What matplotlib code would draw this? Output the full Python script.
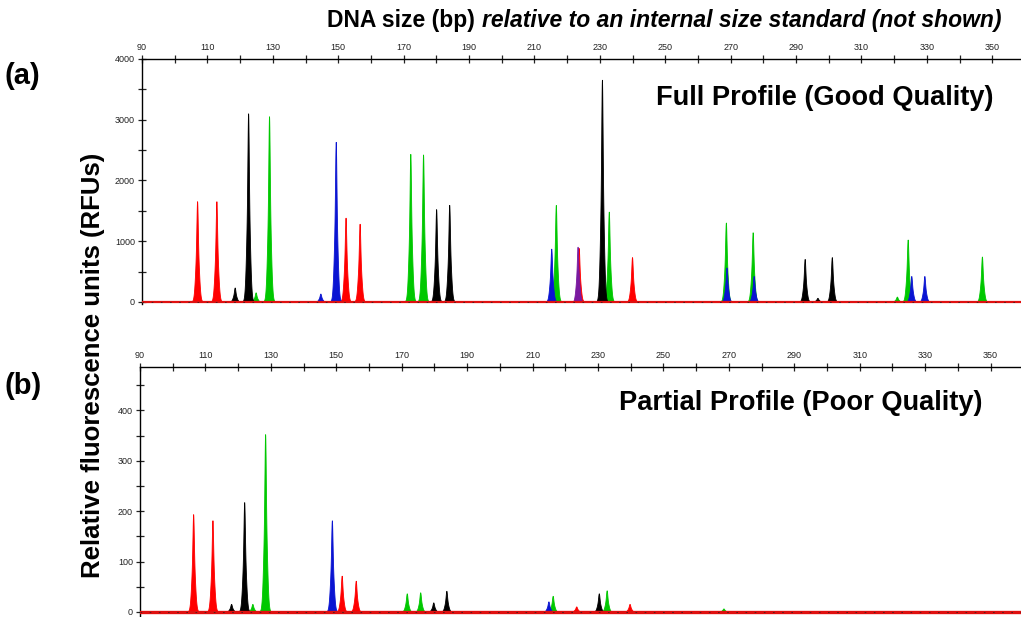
import numpy as np
import matplotlib
matplotlib.use("Agg")
import matplotlib.pyplot as plt
from matplotlib.ticker import MultipleLocator, FixedLocator

plt.rcParams['font.family'] = ['Liberation Sans', 'DejaVu Sans']

# Panel (a): full profile, peak size (bp), height (RFU), dye colour
a_bp = [107.0, 112.9, 118.5, 122.6, 124.9, 129.0, 144.7, 149.4, 149.4, 152.4,
        156.7, 172.2, 176.1, 180.1, 184.1, 215.3, 216.7, 223.2, 223.7, 230.8,
        232.9, 240.0, 268.7, 268.9, 276.9, 277.2, 292.8, 296.7, 301.1, 321.0,
        324.3, 325.4, 329.4, 347.0]
a_rfu = [1650, 1650, 230, 3100, 150, 3050, 130, 300, 2630, 1380,
         1280, 2430, 2420, 1520, 1590, 870, 1590, 910, 880, 3650,
         1480, 730, 1300, 560, 1140, 420, 700, 60, 730, 80,
         1020, 420, 420, 740]
a_dye = ['red', 'red', 'black', 'black', 'green', 'green', 'blue', 'green', 'blue', 'red',
         'red', 'green', 'green', 'black', 'black', 'blue', 'green', 'purple', 'red', 'black',
         'green', 'red', 'green', 'blue', 'green', 'blue', 'black', 'black', 'black', 'green',
         'green', 'blue', 'blue', 'green']

# Panel (b): partial profile
b_bp = [106.4, 112.3, 118.0, 122.0, 124.5, 128.4, 148.8, 151.8, 156.1, 171.7,
        175.8, 179.8, 183.8, 215.0, 216.3, 223.5, 230.4, 232.8, 239.8, 268.5]
b_rfu = [193, 181, 15, 217, 15, 352, 181, 71, 61, 36,
         38, 18, 41, 20, 31, 10, 36, 42, 15, 6]
b_dye = ['red', 'red', 'black', 'black', 'green', 'green', 'blue', 'red', 'red', 'green',
         'green', 'black', 'black', 'blue', 'green', 'red', 'black', 'green', 'red', 'green']

x_ticks_major = list(range(90, 360, 20))
dye_colors = {'green': '#00c800', 'red': '#ff0000', 'black': '#000000',
              'blue': '#0a14d2', 'purple': '#7a1aa0'}
draw_order = ['green', 'red', 'black', 'blue', 'purple']

fig = plt.figure(figsize=(10.21, 6.17), dpi=100)


def draw_panel(ax, bp, rfu, dye, ylim, ymajor, yminor, xlim, base_lw):
    x = np.linspace(90, 362, 10000)
    for d in draw_order:
        y = np.zeros_like(x)
        for p, h, c in zip(bp, rfu, dye):
            if c == d:
                # narrow tip on a slightly wider body
                y += h * (0.4 * np.exp(-0.5 * ((x - p) / 0.18) ** 2)
                          + 0.6 * np.exp(-0.5 * ((x - p) / 0.5) ** 2))
        mask = y > ylim[1] * 0.003
        if mask.any():
            ax.fill_between(x, 0, y, where=mask, color=dye_colors[d], lw=0.6,
                            edgecolor=dye_colors[d], zorder=3)
    ax.axhline(0, color='#e01010', lw=base_lw, zorder=4)
    ax.axhline(0, color='#402020', lw=0.6, ls=(0, (2, 9)), zorder=4)
    ax.set_xlim(*xlim)
    ax.set_ylim(*ylim)
    ax.xaxis.tick_top()
    ax.xaxis.set_major_locator(FixedLocator(x_ticks_major))
    ax.xaxis.set_minor_locator(FixedLocator(list(range(100, 360, 20))))
    ax.yaxis.set_major_locator(MultipleLocator(ymajor))
    ax.yaxis.set_minor_locator(MultipleLocator(yminor))
    ax.tick_params(which='both', direction='inout', labelsize=6.5, width=0.9,
                   colors='#222222', pad=2, length=6)
    ax.spines['bottom'].set_visible(False)
    ax.spines['right'].set_visible(False)
    ax.spines['top'].set_linewidth(1.0)
    ax.spines['left'].set_linewidth(1.0)


ax_a = fig.add_axes([142 / 1021, 1 - 304.4 / 617, 879 / 1021, 245.4 / 617])
draw_panel(ax_a, a_bp, a_rfu, a_dye, (-40, 4000), 1000, 500, (90, 358.8), 1.6)

ax_b = fig.add_axes([140 / 1021, 1 - 616.5 / 617, 881 / 1021, 249.5 / 617])
draw_panel(ax_b, b_bp, b_rfu, b_dye, (-9, 486), 100, 50, (90, 359.3), 2.4)

fig.text(993 / 1021, 1 - 98 / 617, 'Full Profile (Good Quality)',
         fontsize=19.6, fontweight='bold', ha='right', va='center')
fig.text(982 / 1021, 1 - 403 / 617, 'Partial Profile (Poor Quality)',
         fontsize=19.6, fontweight='bold', ha='right', va='center')

fig.text(475 / 1021, 1 - 20 / 617, 'DNA size (bp)', fontsize=16.5,
         fontweight='bold', ha='right', va='center')
fig.text(482 / 1021, 1 - 20 / 617, 'relative to an internal size standard (not shown)',
         fontsize=16.5, fontweight='bold', style='italic', ha='left', va='center')

fig.text(4 / 1021, 1 - 76 / 617, '(a)', fontsize=21, fontweight='bold',
         ha='left', va='center')
fig.text(4 / 1021, 1 - 386 / 617, '(b)', fontsize=21, fontweight='bold',
         ha='left', va='center')

fig.text(93 / 1021, 1 - 365 / 617, 'Relative fluorescence units (RFUs)',
         fontsize=18.5, fontweight='bold', rotation=90, ha='center', va='center')

fig.savefig('out.png', dpi=100)
